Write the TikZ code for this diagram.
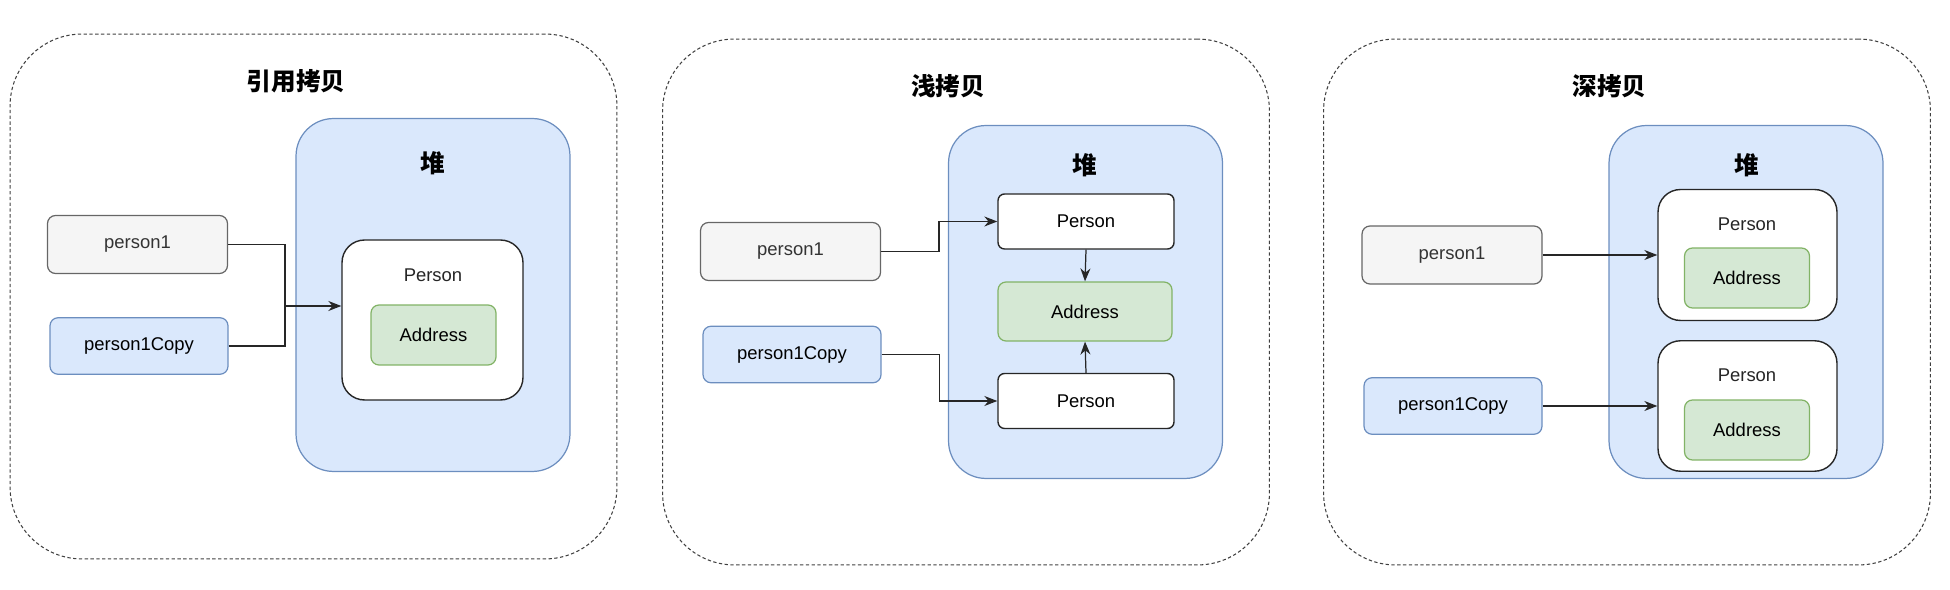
\documentclass[tikz,border=0pt]{standalone}
\usepackage{fontspec}
\setmainfont{Liberation Sans}
\newfontfamily\cjk{Noto Sans CJK SC}
\usetikzlibrary{arrows.meta}
\definecolor{heapfill}{HTML}{DAE8FC}
\definecolor{heapline}{HTML}{6C8EBF}
\definecolor{varfill}{HTML}{F5F5F5}
\definecolor{varline}{HTML}{666666}
\definecolor{vartext}{HTML}{333333}
\definecolor{addrfill}{HTML}{D5E8D4}
\definecolor{addrline}{HTML}{82B366}
\begin{document}
\begin{tikzpicture}[x=0.02cm,y=-0.02cm,
    panel/.style={draw=black!75, line width=0.6pt, dash pattern=on 1.9pt off 1.4pt,
        rounded corners=1.44cm, minimum width=12.14cm, minimum height=10.5cm},
    title/.style={font=\cjk\bfseries\fontsize{14}{16}\selectfont},
    heap/.style={draw=heapline, fill=heapfill, line width=0.7pt, rounded corners=0.75cm,
        minimum width=5.48cm, minimum height=7.06cm},
    var/.style={draw=varline, fill=varfill, text=vartext, line width=0.7pt, rounded corners=0.16cm,
        minimum width=3.6cm, minimum height=1.16cm, font=\fontsize{10.5}{12}\selectfont},
    varcopy/.style={draw=heapline, fill=heapfill, line width=0.7pt, rounded corners=0.16cm,
        minimum width=3.56cm, minimum height=1.13cm, font=\fontsize{10.5}{12}\selectfont},
    obj/.style={draw=black!85, fill=white, line width=0.8pt, rounded corners=0.45cm},
    objbox/.style={draw=black!85, fill=white, line width=0.8pt, rounded corners=0.13cm,
        minimum width=3.52cm, minimum height=1.1cm, font=\fontsize{10.5}{12}\selectfont},
    addr/.style={draw=addrline, fill=addrfill, line width=0.7pt, rounded corners=0.16cm,
        minimum width=2.5cm, minimum height=1.2cm, font=\fontsize{10.5}{12}\selectfont},
    lbl/.style={font=\fontsize{10.5}{12}\selectfont, text=black!85},
    link/.style={line width=0.7pt, draw=black!85},
    arr/.style={link, -{Stealth[length=2.6mm,width=2mm]}}]
\useasboundingbox (0,0) rectangle (1950,590);

% reference copy
\node[panel] (box1) at (313.5,296.5) {};
\node[title] (t1) at (296,81) {引用拷贝};
\node[heap] (heap1) at (433,295) {};
\node[title] (h1) at (433,163) {堆};
\node[var] (p1) at (137.5,244.5) {person1};
\node[varcopy] (pc1) at (139,346) {person1Copy};
\node[obj, minimum width=3.62cm, minimum height=3.2cm] (per1) at (432.5,320) {};
\node[lbl] (pl1) at (433,275) {Person};
\node[addr] (ad1) at (433.5,335) {Address};
\coordinate (j1) at (285,306);
\draw[arr] (p1.east) -| (j1) -- (per1.west |- j1);
\draw[link] (pc1.east) -| (j1);

% shallow copy
\node[panel, minimum height=10.52cm] (box2) at (966,302) {};
\node[title] (t2) at (948,86) {浅拷贝};
\node[heap] (heap2) at (1085.5,302) {};
\node[title] (h2) at (1085,165) {堆};
\node[var] (p2) at (790.5,251.5) {person1};
\node[varcopy] (pc2) at (792,354.5) {person1Copy};
\node[objbox] (pa2) at (1086,221.5) {Person};
\node[addr, minimum width=3.48cm, minimum height=1.18cm] (ad2) at (1085,311.5) {Address};
\node[objbox] (pb2) at (1086,401) {Person};
\draw[arr] (p2.east) -- ++(58,0) |- (pa2.west);
\draw[arr] (pc2.east) -- ++(58,0) |- (pb2.west);
\draw[arr] (pa2.south) -- (ad2.north);
\draw[arr] (pb2.north) -- (ad2.south);

% deep copy
\node[panel, minimum height=10.52cm] (box3) at (1627,302) {};
\node[title] (t3) at (1609.5,86) {深拷贝};
\node[heap] (heap3) at (1746,302) {};
\node[title] (h3) at (1747,165) {堆};
\node[var] (p3) at (1452,255) {person1};
\node[varcopy] (pc3) at (1453,406) {person1Copy};
\node[obj, minimum width=3.58cm, minimum height=2.62cm] (pa3) at (1747.5,255) {};
\node[lbl] (pla3) at (1747,224) {Person};
\node[addr] (ada3) at (1747,278) {Address};
\node[obj, minimum width=3.58cm, minimum height=2.61cm] (pb3) at (1747.5,406) {};
\node[lbl] (plb3) at (1747,375) {Person};
\node[addr] (adb3) at (1747,430) {Address};
\draw[arr] (p3.east) -- (pa3.west);
\draw[arr] (pc3.east) -- (pb3.west);
\end{tikzpicture}
\end{document}
